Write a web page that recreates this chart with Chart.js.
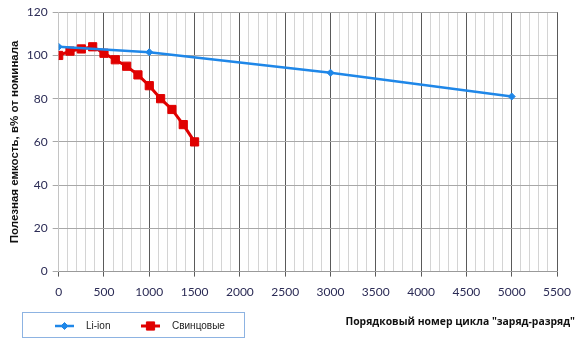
<!DOCTYPE html>
<html>
<head>
<meta charset="utf-8">
<script src="https://cdn.jsdelivr.net/npm/chart.js@4/dist/chart.umd.min.js"></script>
<style>
  body { margin: 0; background: #fff; }
</style>
</head>
<body>
<canvas id="cycleChart" width="580" height="344"></canvas>
<script>
"use strict";

// data
var liIonCycles = [0, 1000, 3000, 5000];
var liIonValues = [104, 101.5, 92, 81];

var leadCycles = [0, 125, 250, 375, 500, 625, 750, 875, 1000, 1125, 1250, 1375, 1500];
var leadValues = [100, 102, 103, 104, 101, 98, 95, 91, 86, 80, 75, 68, 60];

var seriesNames = ["Li-ion", "Свинцовые"];
var yTitle = "Полезная емкость, в% от номинала";
var xTitle = "Порядковый номер цикла \"заряд-разряд\"";

var blue = "#1f87e8";
var red = "#e00000";

function toPoints(xs, ys) {
  var pts = [];
  for (var i = 0; i < xs.length; i++) {
    pts.push({ x: xs[i], y: ys[i] });
  }
  return pts;
}

// legend box and x title drawn by hand, they sit side by side under the axis
var extras = {
  id: "extras",
  afterDraw: function (chart) {
    var c = chart.ctx;
    c.save();
    c.strokeStyle = "#8db3e2";
    c.lineWidth = 1;
    c.strokeRect(22.5, 312.5, 222, 25);

    var items = chart.data.datasets;
    var xs = [55, 141];
    for (var i = 0; i < items.length; i++) {
      var ds = items[i];
      var y = 326;
      c.strokeStyle = ds.borderColor;
      c.fillStyle = ds.backgroundColor;
      c.lineWidth = ds.borderWidth;
      c.beginPath();
      c.moveTo(xs[i], y);
      c.lineTo(xs[i] + 19, y);
      c.stroke();
      c.lineWidth = 1;
      Chart.helpers.drawPoint(c, {
        pointStyle: ds.pointStyle,
        radius: ds.pointRadius,
        borderWidth: 1
      }, xs[i] + 9.5, y);
      c.fillStyle = "#222";
      c.font = "10px 'Liberation Sans', Arial, sans-serif";
      c.textBaseline = "middle";
      c.textAlign = "left";
      c.fillText(ds.label, xs[i] + 31, y);
    }

    c.fillStyle = "#111";
    c.font = "bold 10.4px 'Open Sans', sans-serif";
    c.textAlign = "right";
    c.textBaseline = "middle";
    c.fillText(xTitle, 575, 322);
    c.restore();
  }
};

var ctx = document.getElementById("cycleChart").getContext("2d");
var myChart = new Chart(ctx, {
  type: "line",
  data: {
    datasets: [{
      label: seriesNames[0],
      data: toPoints(liIonCycles, liIonValues),
      borderColor: blue,
      backgroundColor: blue,
      borderWidth: 2.5,
      pointStyle: "rectRot",
      pointRadius: 3.5,
      pointBorderWidth: 1
    }, {
      label: seriesNames[1],
      data: toPoints(leadCycles, leadValues),
      borderColor: red,
      backgroundColor: red,
      borderWidth: 3,
      pointStyle: "rect",
      pointRadius: 5.8,
      pointBorderWidth: 1
    }]
  },
  options: {
    responsive: false,
    animation: false,
    layout: {
      padding: { left: 8, right: 23, top: 6, bottom: 37 }
    },
    plugins: {
      legend: { display: false },
      tooltip: { enabled: false }
    },
    scales: {
      x: {
        type: "linear",
        min: 0,
        max: 5500,
        ticks: {
          stepSize: 100,
          autoSkip: false,
          maxRotation: 0,
          padding: 8,
          color: "#2b2b55",
          font: { family: "Lato, sans-serif", size: 12 },
          callback: function (v) {
            return v % 500 === 0 ? String(v) : "";
          }
        },
        grid: {
          color: function (c) {
            if (!c.tick) return "#d4d4d4";
            return c.tick.value % 500 === 0 ? "#5a5a5a" : "#d4d4d4";
          },
          tickColor: function (c) {
            if (!c.tick) return "rgba(0,0,0,0)";
            return c.tick.value % 500 === 0 ? "#5a5a5a" : "rgba(0,0,0,0)";
          },
          tickLength: 5
        },
        border: { color: "#9a9a9a" }
      },
      y: {
        min: 0,
        max: 120,
        ticks: {
          stepSize: 20,
          padding: 5,
          color: "#2b2b55",
          font: { family: "Lato, sans-serif", size: 12 }
        },
        grid: {
          color: "#a8a8a8",
          tickColor: "#a8a8a8",
          tickLength: 6
        },
        border: { color: "#c4c4c4" },
        title: {
          display: true,
          text: yTitle,
          color: "#111",
          padding: { top: 0, bottom: 0 },
          font: { family: "'Liberation Sans', Arial, sans-serif", size: 11.5, weight: "bold" }
        }
      }
    }
  },
  plugins: [extras]
});
</script>
</body>
</html>
